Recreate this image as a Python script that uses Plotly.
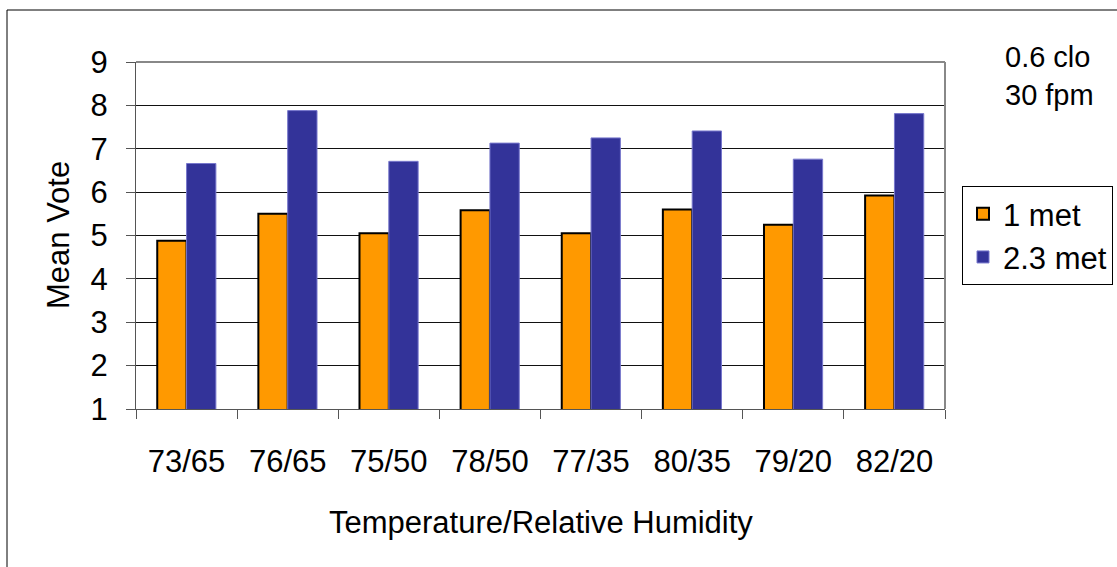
import plotly.graph_objects as go

categories = ["73/65", "76/65", "75/50", "78/50", "77/35", "80/35", "79/20", "82/20"]
met1 = [4.88, 5.50, 5.05, 5.58, 5.05, 5.60, 5.25, 5.92]
met23 = [6.66, 7.88, 6.71, 7.13, 7.25, 7.41, 6.76, 7.81]
series_names = ["1 met", "2.3 met"]
y_ticks = [1, 2, 3, 4, 5, 6, 7, 8, 9]

W, H = 1117, 567
L, R, T, B = 136, 945, 62, 409  # plot area pixel bounds

def px_x(x):
    return (x - L) / (R - L)

def px_y(y):
    return (B - y) / (B - T)

FONT = "Liberation Sans, Arial, sans-serif"
FS = 31

fig = go.Figure()
fig.add_trace(go.Bar(
    x=categories, y=met1, name=series_names[0],
    marker=dict(color="#FF9900", line=dict(color="#000000", width=2)),
))
fig.add_trace(go.Bar(
    x=categories, y=met23, name=series_names[1],
    marker=dict(color="#333399", line=dict(color="#7777cc", width=1)),
))

fig.update_layout(
    width=W, height=H,
    margin=dict(l=L, r=W - R, t=T, b=H - B, pad=0, autoexpand=False),
    paper_bgcolor="white", plot_bgcolor="white",
    barmode="group", bargap=0.42, bargroupgap=0,
    font=dict(family=FONT, size=FS, color="black"),
    showlegend=True,
    legend=dict(
        x=px_x(962), y=px_y(186), xanchor="left", yanchor="top",
        bordercolor="black", borderwidth=1, bgcolor="white",
        font=dict(size=FS), tracegroupgap=0, traceorder="normal",
        itemwidth=30,
    ),
)

fig.update_xaxes(
    type="category", tickson="boundaries", ticks="outside", ticklen=9,
    tickcolor="#555555", tickwidth=1,
    showline=True, linecolor="#555555", linewidth=1,
    showgrid=False, ticklabelstandoff=25,
    tickfont=dict(size=FS),
)
fig.update_yaxes(
    range=[1, 9], tickvals=y_ticks, ticks="outside", ticklen=9,
    tickcolor="#555555", tickwidth=1,
    showline=True, linecolor="#555555", linewidth=1,
    showgrid=True, gridcolor="#111111", gridwidth=1,
    zeroline=False, ticklabelstandoff=12,
    tickfont=dict(size=FS),
)

# plot-area gray frame (top/right)
fig.add_shape(type="line", xref="paper", yref="paper", x0=0, x1=1, y0=1, y1=1,
              line=dict(color="#888888", width=2))
fig.add_shape(type="line", xref="paper", yref="paper", x0=1, x1=1, y0=0, y1=1,
              line=dict(color="#888888", width=2))

# outer chart border
fig.add_shape(type="rect", xref="paper", yref="paper",
              x0=px_x(7), x1=px_x(1130), y0=px_y(10), y1=px_y(580),
              line=dict(color="black", width=1), layer="below")

fig.add_annotation(text="Temperature/Relative Humidity", xref="paper", yref="paper",
                   x=0.5, y=px_y(522), xanchor="center", yanchor="middle",
                   showarrow=False, font=dict(size=FS))
fig.add_annotation(text="Mean Vote", xref="paper", yref="paper",
                   x=px_x(58), y=px_y(235), xanchor="center", yanchor="middle",
                   textangle=-90, showarrow=False, font=dict(size=FS))
fig.add_annotation(text="0.6 clo", xref="paper", yref="paper",
                   x=px_x(1003), y=px_y(57), xanchor="left", yanchor="middle",
                   showarrow=False, font=dict(size=29))
fig.add_annotation(text="30 fpm", xref="paper", yref="paper",
                   x=px_x(1003), y=px_y(95), xanchor="left", yanchor="middle",
                   showarrow=False, font=dict(size=29))

fig.write_html("out.html")
